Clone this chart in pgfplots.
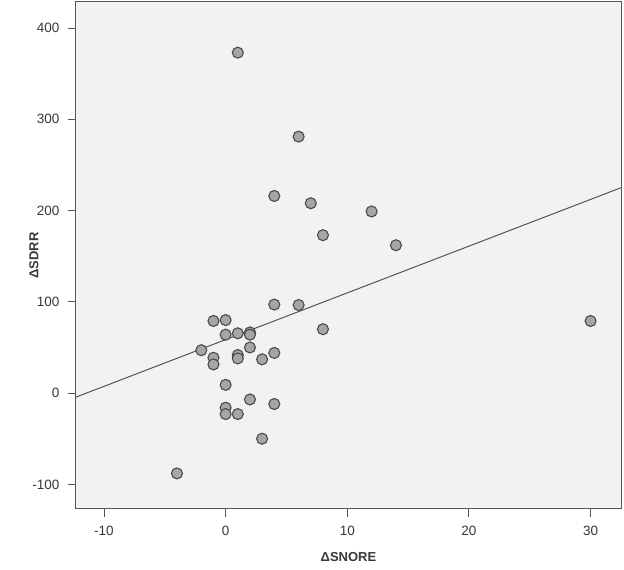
\documentclass[border=0pt]{standalone}
\usepackage{pgfplots}
\pgfplotsset{compat=1.18}
\usepackage{fontspec}
\setmainfont{Liberation Sans}
\usetikzlibrary{calc}
\definecolor{bgc}{HTML}{F2F2F2}
\definecolor{framec}{HTML}{555555}
\definecolor{markfill}{HTML}{A6A6A6}
\definecolor{markdraw}{HTML}{4A4A4A}
\definecolor{txtc}{HTML}{383838}
\pgfplotstableread{
x y
1 373
6 281
4 216
7 208
12 199
8 173
14 162
4 97
6 96.5
8 70
30 79
-1 79
0 80
0 64
1 65.5
2 66.5
2 64
-2 47
2 50
-1 38.7
-1 31.4
1 41.7
1 38
3 37
4 44
0 9
2 -7
4 -12
0 -16
0 -23
1 -23
3 -50
-4 -88
}\pts
\begin{document}
\begin{tikzpicture}
\begin{axis}[
  scale only axis,
  width=545pt, height=507pt,
  xmin=-12.3, xmax=32.5,
  ymin=-127, ymax=428.5,
  xtick={-10,0,10,20,30},
  ytick={-100,0,100,200,300,400},
  xtick pos=bottom, ytick pos=left,
  tick align=outside,
  major tick length=8pt,
  tick style={framec, line width=0.9pt},
  axis line style={framec, line width=1pt},
  axis background/.style={fill=bgc},
  /pgf/number format/assume math mode=true,
  ticklabel style={font=\fontsize{13.5}{15}\selectfont, text=txtc},
  xticklabel style={yshift=-6pt},
  yticklabel style={xshift=-5pt},
  xlabel={\textbf{ΔSNORE}},
  ylabel={\textbf{ΔSDRR}},
  label style={font=\fontsize{13}{15}\selectfont, text=txtc},
  xlabel style={at={(axis description cs:0.5,0)}, anchor=center, yshift=-48pt},
  ylabel style={at={(axis description cs:0,0.5)}, anchor=center, yshift=42pt},
  clip=false,
]
\addplot[only marks, mark=*, mark size=5.5pt,
  mark options={fill=markfill, draw=markdraw, line width=1.1pt}] table[x=x,y=y] {\pts};
\addplot[no marks, color=framec, line width=1pt] coordinates {(-12.3,-4.4) (32.5,225)};
\coordinate (bl) at (rel axis cs:0,0);
\coordinate (tr) at (rel axis cs:1,1);
\end{axis}
\pgfresetboundingbox
\path ($(bl)+(-76pt,-61pt)$) rectangle ($(tr)+(3pt,2pt)$);
\end{tikzpicture}
\end{document}
